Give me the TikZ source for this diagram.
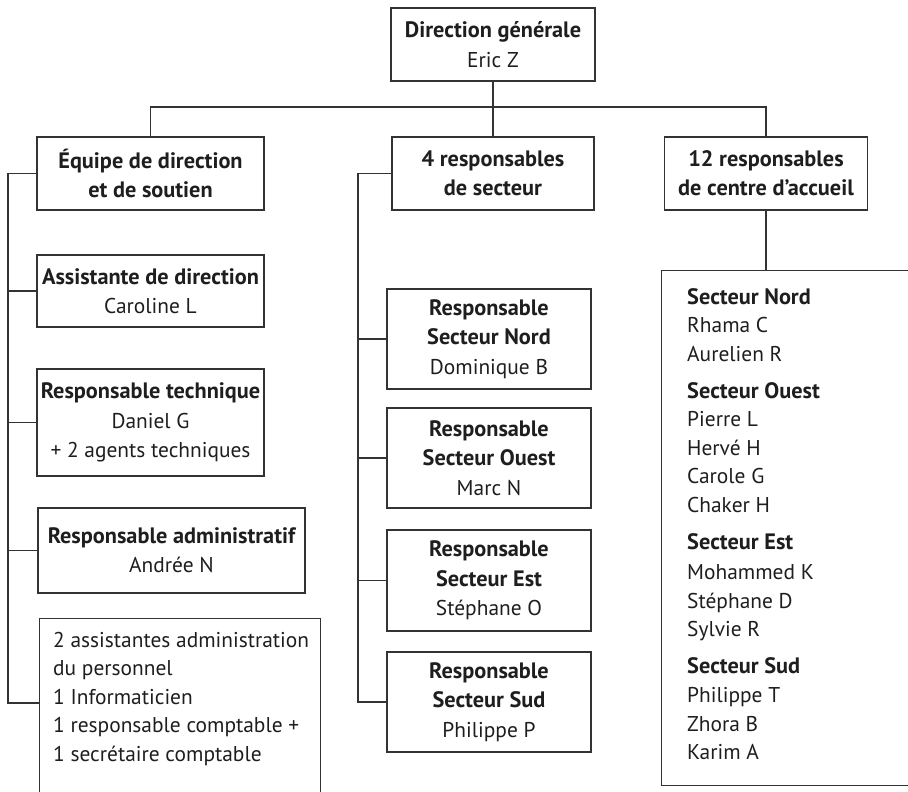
\documentclass[tikz,border=0pt]{standalone}
\usepackage{fontspec}
\setmainfont{PT Sans}
\definecolor{linec}{HTML}{333333}
\definecolor{txt}{HTML}{1E1E1E}
\newcommand{\hd}[1]{{\fontsize{22.3}{29.3}\selectfont\bfseries #1}}
\begin{document}
\begin{tikzpicture}[x=1pt,y=-1pt,
  box/.style={draw=linec, line width=1.2pt, inner sep=0pt, align=center, text=txt},
  conn/.style={draw=linec, line width=1.2pt},
  lbl/.style={anchor=base west, inner sep=0pt, text=txt},
  font=\fontsize{21.4}{29.3}\selectfont]
\useasboundingbox (0,0) rectangle (908,792);
\begin{scope}
\clip (0,0) rectangle (908,792);
% top level
\node[box, minimum width=204pt, minimum height=73pt] (top) at (493,44.5) {\hd{Direction générale}\\Eric Z};
\node[box, minimum width=227pt, minimum height=73pt] (equipe) at (150.5,173.5) {\hd{Équipe de direction}\\\hd{et de soutien}};
\node[box, minimum width=202pt, minimum height=73pt] (secteur) at (493,173.5) {\hd{4 responsables}\\\hd{de secteur}};
\node[box, minimum width=203pt, minimum height=73pt] (centre) at (766,173.5) {\hd{12 responsables}\\\hd{de centre d’accueil}};
% left column
\node[box, minimum width=227pt, minimum height=72pt] (assist) at (150.5,291) {\hd{Assistante de direction}\\Caroline L};
\node[box, minimum width=227pt, minimum height=107pt] (tech) at (150.5,422.5) {\hd{Responsable technique}\\Daniel G\\+ 2 agents techniques};
\node[box, minimum width=267pt, minimum height=85pt] (admin) at (171.5,550.5) {\hd{Responsable administratif}\\Andrée N};
\node[box, minimum width=281pt, minimum height=220pt, anchor=north west] (misc) at (39,618) {};
\foreach \i/\t/\y in {1/2 assistantes administration/647, 2/du personnel/675.5, 3/1 Informaticien/704, 4/1 responsable comptable +/732.5, 5/1 secrétaire comptable/761}
  \node[lbl] (m\i) at (53,\y) {\t};
% middle column
\node[box, minimum width=204pt, minimum height=100pt] (nord) at (489,339) {\hd{Responsable}\\\hd{Secteur Nord}\\Dominique B};
\node[box, minimum width=204pt, minimum height=100pt] (ouest) at (489,458) {\hd{Responsable}\\\hd{Secteur Ouest}\\Marc N};
\node[box, minimum width=204pt, minimum height=101pt] (est) at (489,580.5) {\hd{Responsable}\\\hd{Secteur Est}\\Stéphane O};
\node[box, minimum width=204pt, minimum height=100pt] (sud) at (489,702) {\hd{Responsable}\\\hd{Secteur Sud}\\Philippe P};
% right column
\node[box, minimum width=280pt, minimum height=515pt, anchor=north west] (big) at (661,270) {};
\foreach \i/\t/\y in {1/\hd{Secteur Nord}/304, 2/Rhama C/332.6, 3/Aurelien R/361.2,
  4/\hd{Secteur Ouest}/398, 5/Pierre L/426.6, 6/Hervé H/455.2, 7/Carole G/483.8, 8/Chaker H/512.4,
  9/\hd{Secteur Est}/549, 10/Mohammed K/579.5, 11/Stéphane D/608.1, 12/Sylvie R/636.7,
  13/\hd{Secteur Sud}/673, 14/Philippe T/702.5, 15/Zhora B/731.1, 16/Karim A/759.7}
  \node[lbl] (r\i) at (687,\y) {\t};
% connectors
\coordinate (hb) at (493,107);
\draw[conn] (top.south) -- (secteur.north);
\draw[conn] (equipe.north) |- (hb) -| (centre.north);
\draw[conn] (centre.south) -- (centre.south |- big.north);
\coordinate (lx) at (8,0);
\coordinate (miscc) at (39,703);
\draw[conn] (equipe.west) -| (lx |- miscc) -- (miscc);
\foreach \n in {assist,tech,admin} \draw[conn] (\n.west) -- (\n.west -| lx);
\coordinate (mx) at (358,0);
\draw[conn] (secteur.west) -| (mx |- sud.west) -- (sud.west);
\foreach \n in {nord,ouest,est} \draw[conn] (\n.west) -- (\n.west -| mx);
\end{scope}
\end{tikzpicture}
\end{document}
